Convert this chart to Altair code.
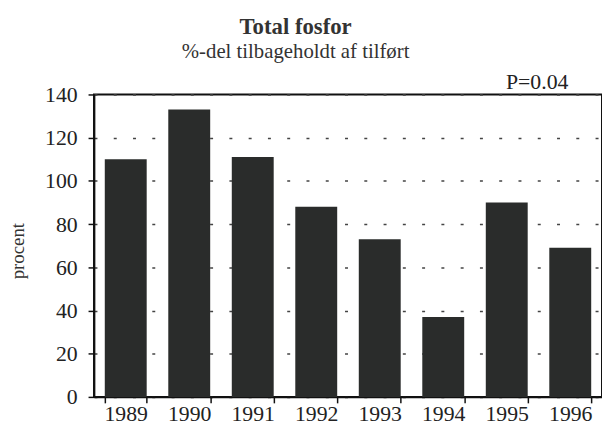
import altair as alt
import pandas as pd

years = ["1989", "1990", "1991", "1992", "1993", "1994", "1995", "1996"]
values = [110, 133, 111, 88, 73, 37, 90, 69]
y_ticks = [0, 20, 40, 60, 80, 100, 120, 140]
title_text = "Total fosfor"
subtitle_text = "%-del tilbageholdt af tilført"
p_label = "P=0.04"
y_title = "procent"

df = pd.DataFrame({"year": years, "value": values})
FONT = "Liberation Serif"

bars = alt.Chart(df).mark_bar(color="#2a2c2b").encode(
    x=alt.X("year:N", sort=years,
            scale=alt.Scale(paddingInner=0.34, paddingOuter=0.17),
            axis=alt.Axis(title=None, labelAngle=0, tickBand="extent",
                          tickSize=6, tickColor="#111", tickWidth=1.5,
                          domainColor="#111", domainWidth=1.8,
                          labelFont=FONT, labelFontSize=22, labelColor="#222",
                          labelPadding=1, grid=False)),
    y=alt.Y("value:Q",
            scale=alt.Scale(domain=[0, 140], nice=False, zero=True),
            axis=alt.Axis(values=y_ticks, title=y_title, tickSize=6,
                          tickColor="#111", tickWidth=1.5,
                          domainColor="#111", domainWidth=1.8,
                          labelFont=FONT, labelFontSize=22, labelColor="#222",
                          labelPadding=11,
                          titleFont=FONT, titleFontSize=19, titleFontWeight="normal",
                          titleColor="#333", titleX=-67, titleY=158,
                          grid=True, gridColor="#444", gridWidth=1.5,
                          gridDash=[3, 16.5])),
)

ptext = alt.Chart(pd.DataFrame({"t": [p_label]})).mark_text(
    font=FONT, fontSize=22, color="#222", align="right", baseline="alphabetic"
).encode(x=alt.value(480), y=alt.value(-6), text="t:N")

chart = alt.layer(bars, ptext).properties(
    width=514, height=306,
    autosize=alt.AutoSizeParams(type="none"),
    padding={"left": 87, "top": 85, "right": 0, "bottom": 32},
    title=alt.Title(title_text, subtitle=subtitle_text, anchor="middle",
                    dx=-53, offset=9, font=FONT, fontSize=23, fontWeight="bold",
                    color="#333", subtitleFont=FONT, subtitleFontSize=21,
                    subtitleColor="#333", subtitlePadding=2),
).configure_view(stroke="#111", strokeWidth=2)

chart.save("out.html", embed_options={"renderer": "svg", "actions": False})
